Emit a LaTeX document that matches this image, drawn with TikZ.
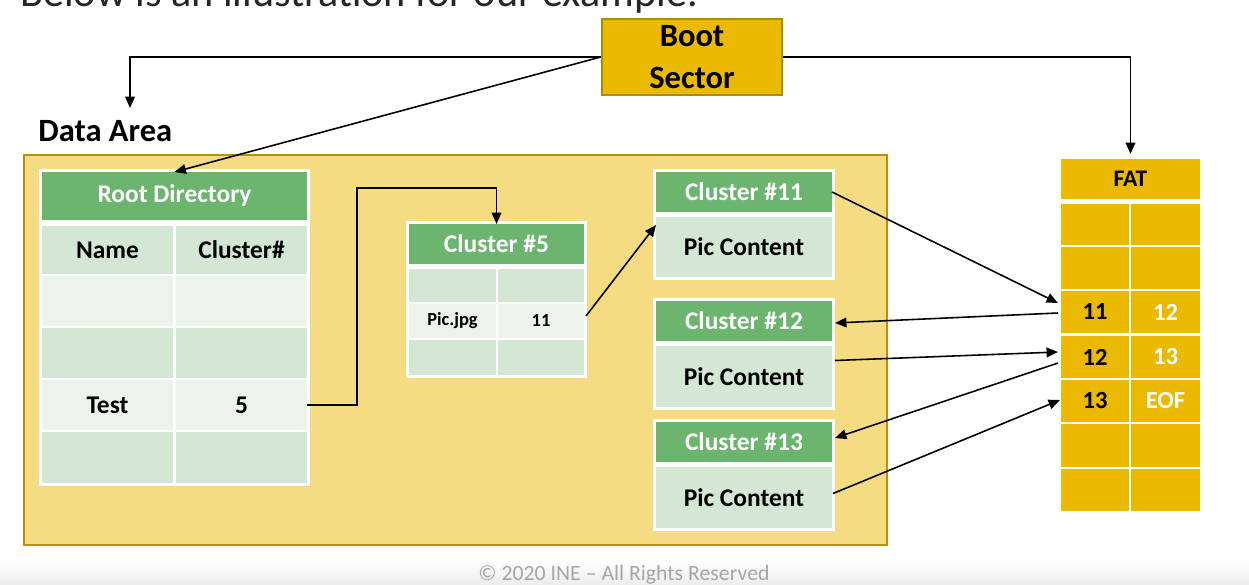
\documentclass[tikz,border=0pt]{standalone}
\usepackage{fontspec}
\setmainfont{Carlito}
\usetikzlibrary{arrows.meta,calc}
\definecolor{areaY}{HTML}{F5DB82}
\definecolor{areaB}{HTML}{B8900A}
\definecolor{bootY}{HTML}{EAB900}
\definecolor{bootB}{HTML}{B08A00}
\definecolor{hdrG}{HTML}{6BB56E}
\definecolor{rowD}{HTML}{D4E7D4}
\definecolor{rowL}{HTML}{ECF3EA}
\definecolor{fatY}{HTML}{EAB900}
\definecolor{foot}{HTML}{A6A6A6}
\definecolor{ttl}{HTML}{262626}
\definecolor{footbg}{HTML}{ECECEC}
\newcommand{\mycell}[7]{\node[#6, minimum width={(#4-#2)*0.02cm}, minimum height={(#5-#3)*0.02cm}] (#1) at ({(#2+#4)/2},{(#3+#5)/2}) {#7};}
\tikzset{
  cellbase/.style={inner sep=0pt, outer sep=0pt, draw=none, align=center},
  hdr/.style={cellbase, fill=hdrG, text=white, font=\bfseries\fontsize{14.5}{16}\selectfont},
  dk/.style={cellbase, fill=rowD, font=\bfseries\fontsize{14.5}{16}\selectfont},
  lt/.style={cellbase, fill=rowL, font=\bfseries\fontsize{14.5}{16}\selectfont},
  small/.style={font=\bfseries\fontsize{10.5}{12}\selectfont},
  fatc/.style={cellbase, fill=fatY, font=\bfseries\fontsize{14}{16}\selectfont},
  wt/.style={text=white},
  backing/.style={fill=white, draw=none},
  arr/.style={draw=black, line width=0.9pt, -{Triangle[length=6.5pt,width=5.5pt]}},
}
\begin{document}
\begin{tikzpicture}[x=0.02cm, y=-0.02cm]
\useasboundingbox (0,0) rectangle (1249,585);
\fill[white] (0,0) rectangle (1249,585);
\shade[top color=white, bottom color=footbg] (0,560) rectangle (1249,585);
% title (cut off at the top edge, as in the reference)
\node[anchor=base west, inner sep=0pt, text=ttl, font=\fontsize{24}{28}\selectfont] (title) at (20,6) {Below is an illustration for our example.};
% Boot sector
\node[draw=bootB, line width=1.5pt, fill=bootY, minimum width=3.6cm, minimum height=1.52cm, inner sep=0pt, align=center, font=\bfseries\fontsize{18.5}{23.5}\selectfont] (boot) at (692,57) {Boot\\Sector};
% Data area
\node[anchor=base west, inner sep=0pt, font=\bfseries\fontsize{18.5}{22}\selectfont] (dalabel) at (38,141) {Data Area};
\draw[draw=areaB, line width=1.7pt, fill=areaY] (24,155) rectangle (887,545);
% Root directory
\fill[backing] (39,169) rectangle (310,486);
\mycell{rootH}{42}{172}{307}{220}{hdr}{Root Directory}
\mycell{r1a}{42}{226}{173}{274}{dk}{Name}
\mycell{r1b}{176}{226}{307}{274}{dk}{Cluster\#}
\mycell{r2a}{42}{276}{173}{326}{lt}{}
\mycell{r2b}{176}{276}{307}{326}{lt}{}
\mycell{r3a}{42}{328}{173}{378}{dk}{}
\mycell{r3b}{176}{328}{307}{378}{dk}{}
\mycell{r4a}{42}{380}{173}{430}{lt}{Test}
\mycell{r4b}{176}{380}{307}{430}{lt}{5}
\mycell{r5a}{42}{432}{173}{483}{dk}{}
\mycell{r5b}{176}{432}{307}{483}{dk}{}
% Cluster 5
\fill[backing] (406,221) rectangle (587,378);
\mycell{c5H}{409}{224}{584}{264}{hdr}{Cluster \#5}
\mycell{c5r1a}{409}{269}{496}{302}{dk}{}
\mycell{c5r1b}{498}{269}{584}{302}{dk}{}
\mycell{c5r2a}{409}{304}{496}{338}{lt,small}{Pic.jpg}
\mycell{c5r2b}{498}{304}{584}{338}{lt,small}{11}
\mycell{c5r3a}{409}{340}{496}{375}{dk}{}
\mycell{c5r3b}{498}{340}{584}{375}{dk}{}
% Clusters 11, 12, 13
\fill[backing] (653,169) rectangle (835,280);
\mycell{c11H}{656}{172}{832}{212}{hdr}{Cluster \#11}
\mycell{c11C}{656}{217}{832}{277}{dk}{Pic Content}
\fill[backing] (653,298) rectangle (835,410);
\mycell{c12H}{656}{301}{832}{341}{hdr}{Cluster \#12}
\mycell{c12C}{656}{346}{832}{407}{dk}{Pic Content}
\fill[backing] (653,419) rectangle (835,531);
\mycell{c13H}{656}{422}{832}{462}{hdr}{Cluster \#13}
\mycell{c13C}{656}{467}{832}{528}{dk}{Pic Content}
% FAT
\mycell{fatH}{1061}{159}{1200}{199}{fatc,font=\bfseries\fontsize{13.5}{15}\selectfont}{FAT}
\mycell{f1a}{1061}{204}{1129}{245}{fatc}{}
\mycell{f1b}{1131}{204}{1200}{245}{fatc}{}
\mycell{f2a}{1061}{247}{1129}{289}{fatc}{}
\mycell{f2b}{1131}{247}{1200}{289}{fatc}{}
\mycell{f3a}{1061}{291}{1129}{333}{fatc}{11}
\mycell{f3b}{1131}{291}{1200}{333}{fatc,wt}{12}
\mycell{f4a}{1061}{336}{1129}{378}{fatc}{12}
\mycell{f4b}{1131}{336}{1200}{378}{fatc,wt}{13}
\mycell{f5a}{1061}{380}{1129}{422}{fatc}{13}
\mycell{f5b}{1131}{380}{1200}{422}{fatc,wt}{EOF}
\mycell{f6a}{1061}{424}{1129}{467}{fatc}{}
\mycell{f6b}{1131}{424}{1200}{467}{fatc}{}
\mycell{f7a}{1061}{469}{1129}{511}{fatc}{}
\mycell{f7b}{1131}{469}{1200}{511}{fatc}{}
% connectors
\coordinate (bl) at (130,108);
\coordinate (turn) at (357,188);
\draw[arr] (boot.west) -| (bl);
\draw[arr] (boot.west) -- (rootH.north);
\draw[arr] (boot.east) -| ($(fatH.north)+(0,-5)$);
\draw[arr] (r4b.east) -| (turn) -| (c5H.north);
\draw[arr] ($(c5r2b.east)+(2,-5)$) -- ($(c11C.north west)+(0,8)$);
\draw[arr] (c11H.east) -- ($(f3a.west)+(-3,-9)$);
\draw[arr] ($(f3a.west)+(-3,1)$) -- ($(c12H.east)+(3,2)$);
\draw[arr] ($(c12C.east)+(3,-16)$) -- ($(f4a.west)+(-3,-5)$);
\draw[arr] ($(f4a.west)+(-3,6)$) -- ($(c13H.east)+(3,-4)$);
\draw[arr] ($(c13C.east)+(1,-4)$) -- ($(f5a.west)+(-1,-1)$);
% footer
\node[inner sep=0pt, text=foot, font=\fontsize{12.4}{14}\selectfont] (footer) at (624,575) {© 2020 INE – All Rights Reserved};
\end{tikzpicture}
\end{document}
